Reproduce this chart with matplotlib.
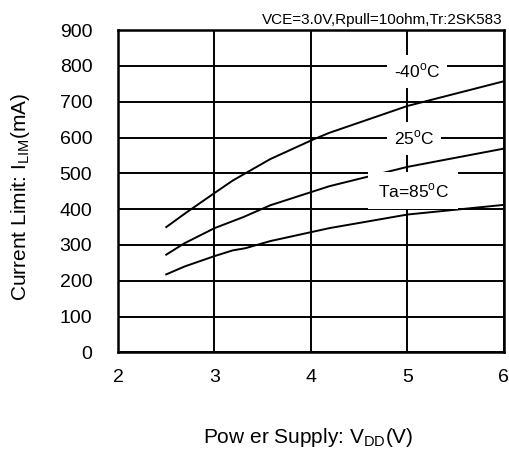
import matplotlib
matplotlib.use("Agg")
import matplotlib.pyplot as plt

plt.rcParams['font.family'] = ['Liberation Sans', 'DejaVu Sans']
plt.rcParams['mathtext.fontset'] = 'custom'
plt.rcParams['mathtext.rm'] = 'Liberation Sans'

# Supply voltage (V) and current limit (mA) for each ambient temperature
vdd_m40 = [2.5, 2.7, 3.0, 3.19, 3.58, 4.02, 4.19, 5.0, 6.0]
ilim_m40 = [350, 389, 445, 480, 540, 594, 613, 688, 757]

vdd_25 = [2.5, 2.69, 3.0, 3.30, 3.58, 4.19, 5.0, 6.0]
ilim_25 = [273, 305, 347, 378, 411, 464, 518, 569]

vdd_85 = [2.5, 2.69, 3.0, 3.19, 3.32, 3.58, 4.19, 5.0, 6.0]
ilim_85 = [218, 240, 269, 285, 291, 311, 347, 385, 412]

x_ticks = [2, 3, 4, 5, 6]
y_ticks = [0, 100, 200, 300, 400, 500, 600, 700, 800, 900]

fig = plt.figure(figsize=(5.1, 4.5), dpi=100)
ax = fig.add_axes([0.2314, 0.2167, 0.7566, 0.7166])

ax.set_xlim(2, 6)
ax.set_ylim(0, 900)
ax.set_xticks(x_ticks)
ax.set_yticks(y_ticks)
ax.grid(True, color='black', linewidth=1.4)
ax.set_axisbelow(True)
for s in ax.spines.values():
    s.set_linewidth(1.8)
ax.tick_params(axis='both', length=0, labelsize=14)
ax.tick_params(axis='x', pad=12)
ax.tick_params(axis='y', pad=18.5)

for v, i in [(vdd_m40, ilim_m40), (vdd_25, ilim_25), (vdd_85, ilim_85)]:
    ax.plot(v, i, color='black', linewidth=1.4, zorder=3)

box = dict(boxstyle='square,pad=0.4', facecolor='white', edgecolor='none')
ax.text(5.1, 785, r'-40$^{\mathrm{o}}$C', ha='center', va='center', fontsize=12.5,
        bbox=box, zorder=4)
ax.text(5.07, 598, r'25$^{\mathrm{o}}$C', ha='center', va='center', fontsize=12.5,
        bbox=box, zorder=4)
ax.text(5.06, 452, r'Ta=85$^{\mathrm{o}}$C', ha='center', va='center', fontsize=12.5,
        bbox=dict(boxstyle='square,pad=0.55', facecolor='white', edgecolor='none'),
        zorder=4)

fig.text(0.986, 0.955, 'VCE=3.0V,Rpull=10ohm,Tr:2SK583', ha='right', va='center',
         fontsize=11)

fig.text(0.605, 0.027, r'Pow er Supply: V$_{\mathrm{DD}}$(V)', ha='center',
         va='center', fontsize=15)
fig.text(0.04, 0.562, r'Current Limit: I$_{\mathrm{LIM}}$(mA)', ha='center',
         va='center', rotation=90, fontsize=15)

fig.savefig('out.png', dpi=100)
